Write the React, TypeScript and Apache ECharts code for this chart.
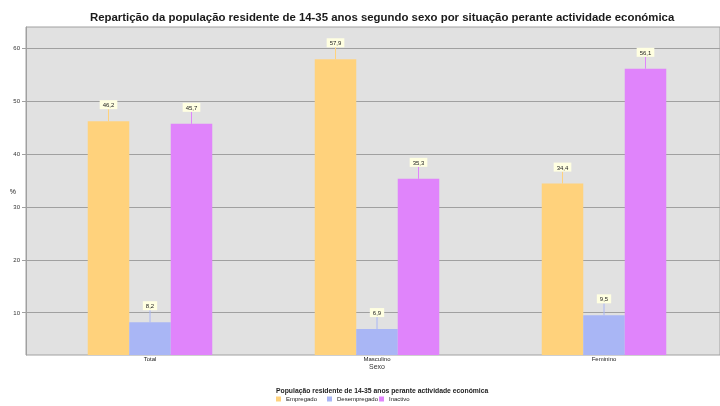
import React, { useEffect, useRef } from "react";
import * as echarts from "echarts";

const titleText =
  "Repartição da população residente de 14-35 anos segundo sexo por situação perante actividade económica";
const legendTitle = "População residente de 14-35 anos perante actividade económica";
const categories = ["Total", "Masculino", "Feminino"];
const seriesNames = ["Empregado", "Desempregado", "Inactivo"];
const empregado = [46.2, 57.9, 34.4];
const desempregado = [8.2, 6.9, 9.5];
const inactivo = [45.7, 35.3, 56.1];
const yTicks = [10, 20, 30, 40, 50, 60];
const yMin = 2;
const yMax = 64;
const colors = ["#ffd27c", "#a9b6f5", "#e084fb"];
const FONT = "Liberation Sans, Arial, sans-serif";
const BAR_W = 41.5;

export default function App() {
  const ref = useRef<HTMLDivElement>(null);
  useEffect(() => {
    document.body.style.margin = "0";
    const chart = echarts.init(ref.current!, null, { renderer: "svg" });
    const values = [empregado, desempregado, inactivo];
    const legendLefts = [276, 327, 379];
    const barSeries = seriesNames.map((n, i) => ({
      name: n,
      type: "bar",
      xAxisIndex: 1,
      yAxisIndex: 1,
      data: values[i],
      barWidth: BAR_W,
      barGap: "0%",
      itemStyle: { color: colors[i] },
    }));
    const labelSeries = seriesNames.map((n, i) => ({
      name: n + "-label",
      type: "custom",
      xAxisIndex: 1,
      yAxisIndex: 1,
      silent: true,
      z: 5,
      data: values[i].map((v, k) => [k, v]),
      renderItem: (params: any, api: any) => {
        const pt = api.coord([api.value(0), api.value(1)]);
        const x = pt[0] + (i - 1) * BAR_W;
        const y = pt[1];
        const txt = String(api.value(1)).replace(".", ",");
        return {
          type: "group",
          children: [
            {
              type: "line",
              shape: { x1: x, y1: y, x2: x, y2: y - 12 },
              style: { stroke: colors[i], lineWidth: 1 },
            },
            {
              type: "text",
              x: x,
              y: y - 12,
              style: {
                text: txt,
                align: "center",
                verticalAlign: "bottom",
                fontSize: 6,
                fontFamily: FONT,
                fill: "#222",
                backgroundColor: "#ffffe1",
                padding: [2, 3, 1, 3],
              },
            },
          ],
        };
      },
    }));
    chart.setOption({
      animation: false,
      textStyle: { fontFamily: FONT },
      title: [
        {
          text: titleText,
          left: 90,
          top: 11,
          padding: 0,
          textStyle: { fontSize: 11.4, fontWeight: "bold", color: "#1a1a1a", fontFamily: FONT },
        },
        {
          text: legendTitle,
          left: 276,
          top: 387,
          padding: 0,
          textStyle: { fontSize: 6.8, fontWeight: "bold", color: "#222", fontFamily: FONT },
        },
      ],
      legend: seriesNames.map((n, i) => ({
        data: [n],
        left: legendLefts[i],
        top: 396,
        padding: 0,
        itemWidth: 5,
        itemHeight: 5,
        icon: "rect",
        textStyle: { fontSize: 6, color: "#222", fontFamily: FONT },
      })),
      grid: [
        {
          left: 26,
          right: 0,
          top: 27,
          bottom: 51,
          show: true,
          backgroundColor: "#e1e1e1",
          borderColor: "#a0a0a0",
          borderWidth: 1,
        },
        { left: 36.5, right: 2.5, top: 27, bottom: 51 },
      ],
      xAxis: [
        { gridIndex: 0, type: "category", data: categories, show: false },
        {
          gridIndex: 1,
          type: "category",
          data: categories,
          axisLine: { show: false },
          axisTick: { show: false },
          axisLabel: { fontSize: 6, color: "#222", margin: 1, fontFamily: FONT },
          name: "Sexo",
          nameLocation: "middle",
          nameGap: 8,
          nameMoveOverlap: false,
          nameTextStyle: { fontSize: 7, color: "#333", fontFamily: FONT },
        },
      ],
      yAxis: [
        {
          gridIndex: 0,
          type: "value",
          min: yMin,
          max: yMax,
          axisLine: { show: true, lineStyle: { color: "#a0a0a0" } },
          axisTick: { show: true, length: 4, customValues: yTicks, lineStyle: { color: "#a0a0a0" } },
          axisLabel: { customValues: yTicks, fontSize: 6, color: "#333", margin: 6, fontFamily: FONT },
          splitLine: { show: true, lineStyle: { color: "#a0a0a0" } },
          name: "%",
          nameLocation: "middle",
          nameRotate: 0,
          nameGap: 10,
          nameMoveOverlap: false,
          nameTextStyle: { fontSize: 7, color: "#222", fontFamily: FONT },
        },
        { gridIndex: 1, type: "value", min: yMin, max: yMax, show: false },
      ],
      series: [...barSeries, ...labelSeries],
    });
    return () => chart.dispose();
  }, []);
  return <div ref={ref} style={{ width: 720, height: 406, position: "fixed", left: 0, top: 0 }} />;
}
